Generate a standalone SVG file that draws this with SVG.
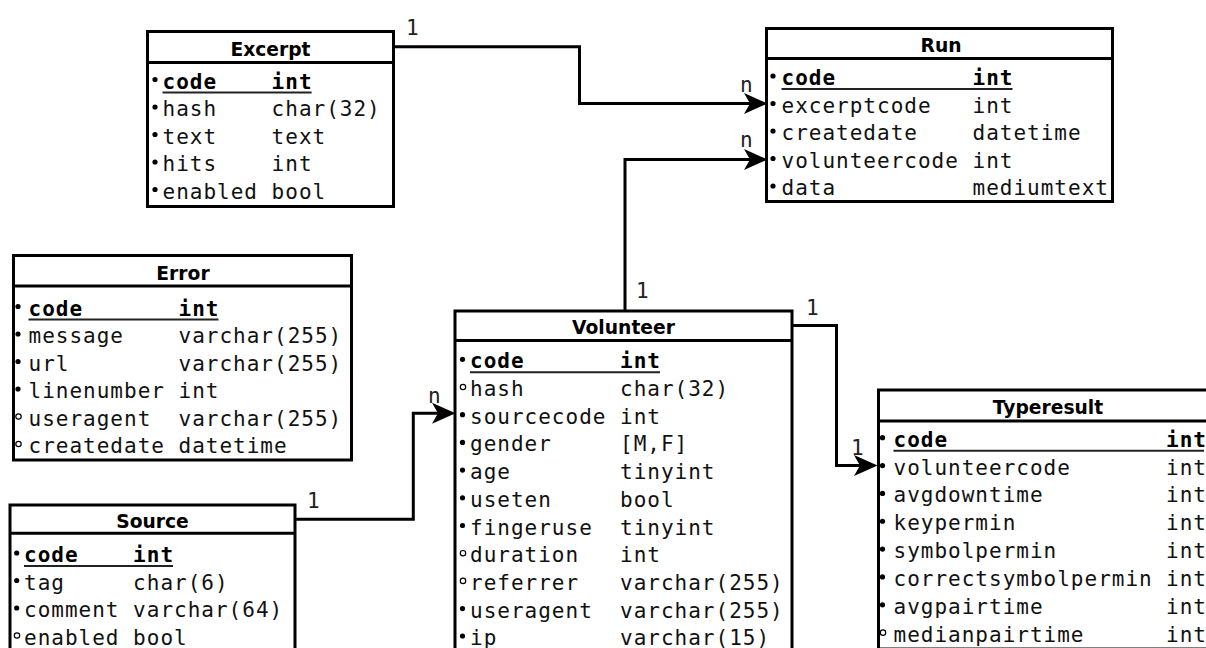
<svg xmlns="http://www.w3.org/2000/svg" width="1206" height="648" viewBox="0 0 1206 648">
<style>
.box{fill:#fff;stroke:#000;stroke-width:3}
.sep{stroke:#000;stroke-width:3}
.hd{font-family:"DejaVu Sans","Liberation Sans",sans-serif;font-weight:bold;font-size:18.7px;fill:#000;text-anchor:middle}
.t{font-family:"DejaVu Sans Mono","Liberation Mono",monospace;font-size:21px;letter-spacing:1px;fill:#111}
.pk{font-weight:bold;fill:#000}
.ul{stroke:#222;stroke-width:2}
.b{fill:#000}
.o{fill:none;stroke:#000;stroke-width:1.2}
.c{fill:none;stroke:#000;stroke-width:3}
.lb{font-family:"DejaVu Sans Mono","Liberation Mono",monospace;font-size:21px;fill:#222}
</style>
<defs>
<marker id="arr" markerUnits="userSpaceOnUse" markerWidth="26" markerHeight="24" viewBox="-16 -12 26 24" refX="0" refY="0" orient="auto">
<path d="M8.5,0 L-15,-10.5 L-9,0 L-15,10.5 Z" fill="#000"/>
</marker>
</defs>

<g id="excerpt">
<rect class="box" x="147.5" y="31.5" width="246" height="175"/>
<line class="sep" x1="147.5" y1="62.5" x2="393.5" y2="62.5"/>
<text class="hd" x="270.5" y="55.5">Excerpt</text>
<circle class="b" cx="155" cy="79.5" r="2.6"/><text class="t pk" x="162.5" y="88.5">code</text><text class="t pk" x="271.6" y="88.5">int</text>
<line class="ul" x1="162.5" y1="92.5" x2="311.6" y2="92.5"/>
<circle class="b" cx="155" cy="107" r="2.6"/><text class="t" x="162.5" y="116">hash</text><text class="t" x="271.6" y="116">char(32)</text>
<circle class="b" cx="155" cy="134.5" r="2.6"/><text class="t" x="162.5" y="143.5">text</text><text class="t" x="271.6" y="143.5">text</text>
<circle class="b" cx="155" cy="162" r="2.6"/><text class="t" x="162.5" y="171">hits</text><text class="t" x="271.6" y="171">int</text>
<circle class="b" cx="155" cy="189.5" r="2.6"/><text class="t" x="162.5" y="198.5">enabled</text><text class="t" x="271.6" y="198.5">bool</text>
</g>

<g id="run">
<rect class="box" x="766.5" y="28.5" width="346" height="173"/>
<line class="sep" x1="766.5" y1="58.5" x2="1112.5" y2="58.5"/>
<text class="hd" x="941" y="51.5">Run</text>
<circle class="b" cx="773" cy="76" r="2.6"/><text class="t pk" x="781.5" y="85">code</text><text class="t pk" x="972.5" y="85">int</text>
<line class="ul" x1="781.5" y1="89" x2="1012.5" y2="89"/>
<circle class="b" cx="773" cy="103.5" r="2.6"/><text class="t" x="781.5" y="112.5">excerptcode</text><text class="t" x="972.5" y="112.5">int</text>
<circle class="b" cx="773" cy="131" r="2.6"/><text class="t" x="781.5" y="140">createdate</text><text class="t" x="972.5" y="140">datetime</text>
<circle class="b" cx="773" cy="158.5" r="2.6"/><text class="t" x="781.5" y="167.5">volunteercode</text><text class="t" x="972.5" y="167.5">int</text>
<circle class="b" cx="773" cy="186" r="2.6"/><text class="t" x="781.5" y="195">data</text><text class="t" x="972.5" y="195">mediumtext</text>
</g>

<g id="error">
<rect class="box" x="13.5" y="255.5" width="338" height="204.5"/>
<line class="sep" x1="13.5" y1="286" x2="351.5" y2="286"/>
<text class="hd" x="183" y="280">Error</text>
<circle class="b" cx="18" cy="306.5" r="2.6"/><text class="t pk" x="28.5" y="315.5">code</text><text class="t pk" x="178.5" y="315.5">int</text>
<line class="ul" x1="28.5" y1="319.5" x2="218.5" y2="319.5"/>
<circle class="b" cx="18" cy="334" r="2.6"/><text class="t" x="28.5" y="343">message</text><text class="t" x="178.5" y="343">varchar(255)</text>
<circle class="b" cx="18" cy="361.5" r="2.6"/><text class="t" x="28.5" y="370.5">url</text><text class="t" x="178.5" y="370.5">varchar(255)</text>
<circle class="b" cx="18" cy="389" r="2.6"/><text class="t" x="28.5" y="398">linenumber</text><text class="t" x="178.5" y="398">int</text>
<circle class="o" cx="18.5" cy="416.5" r="2.7"/><text class="t" x="28.5" y="425.5">useragent</text><text class="t" x="178.5" y="425.5">varchar(255)</text>
<circle class="o" cx="18.5" cy="444" r="2.7"/><text class="t" x="28.5" y="453">createdate</text><text class="t" x="178.5" y="453">datetime</text>
</g>

<g id="volunteer">
<rect class="box" x="455" y="311" width="337" height="360"/>
<line class="sep" x1="455" y1="340.5" x2="792" y2="340.5"/>
<text class="hd" x="623.5" y="334">Volunteer</text>
<circle class="b" cx="462.5" cy="359.3" r="2.6"/><text class="t pk" x="470" y="368.3">code</text><text class="t pk" x="620" y="368.3">int</text>
<line class="ul" x1="470" y1="372.3" x2="660" y2="372.3"/>
<circle class="o" cx="463" cy="387" r="2.7"/><text class="t" x="470" y="396">hash</text><text class="t" x="620" y="396">char(32)</text>
<circle class="b" cx="462.5" cy="414.7" r="2.6"/><text class="t" x="470" y="423.7">sourcecode</text><text class="t" x="620" y="423.7">int</text>
<circle class="b" cx="462.5" cy="442.4" r="2.6"/><text class="t" x="470" y="451.4">gender</text><text class="t" x="620" y="451.4">[M,F]</text>
<circle class="b" cx="462.5" cy="470.1" r="2.6"/><text class="t" x="470" y="479.1">age</text><text class="t" x="620" y="479.1">tinyint</text>
<circle class="b" cx="462.5" cy="497.8" r="2.6"/><text class="t" x="470" y="506.8">useten</text><text class="t" x="620" y="506.8">bool</text>
<circle class="b" cx="462.5" cy="525.5" r="2.6"/><text class="t" x="470" y="534.5">fingeruse</text><text class="t" x="620" y="534.5">tinyint</text>
<circle class="o" cx="463" cy="553.2" r="2.7"/><text class="t" x="470" y="562.2">duration</text><text class="t" x="620" y="562.2">int</text>
<circle class="o" cx="463" cy="580.9" r="2.7"/><text class="t" x="470" y="589.9">referrer</text><text class="t" x="620" y="589.9">varchar(255)</text>
<circle class="b" cx="462.5" cy="608.6" r="2.6"/><text class="t" x="470" y="617.6">useragent</text><text class="t" x="620" y="617.6">varchar(255)</text>
<circle class="b" cx="462.5" cy="636" r="2.6"/><text class="t" x="470" y="645">ip</text><text class="t" x="620" y="645">varchar(15)</text>
</g>

<g id="typeresult">
<rect class="box" x="878.5" y="390" width="340" height="259"/>
<line class="sep" x1="878.5" y1="421" x2="1218.5" y2="421"/>
<text class="hd" x="1048" y="414">Typeresult</text>
<circle class="b" cx="882.5" cy="437.7" r="2.6"/><text class="t pk" x="893.5" y="446.7">code</text><text class="t pk" x="1166" y="446.7">int</text>
<line class="ul" x1="893.5" y1="450.7" x2="1204" y2="450.7"/>
<circle class="b" cx="882.5" cy="465.55" r="2.6"/><text class="t" x="893.5" y="474.55">volunteercode</text><text class="t" x="1166" y="474.55">int</text>
<circle class="b" cx="882.5" cy="493.4" r="2.6"/><text class="t" x="893.5" y="502.4">avgdowntime</text><text class="t" x="1166" y="502.4">int</text>
<circle class="b" cx="882.5" cy="521.25" r="2.6"/><text class="t" x="893.5" y="530.25">keypermin</text><text class="t" x="1166" y="530.25">int</text>
<circle class="b" cx="882.5" cy="549.1" r="2.6"/><text class="t" x="893.5" y="558.1">symbolpermin</text><text class="t" x="1166" y="558.1">int</text>
<circle class="b" cx="882.5" cy="576.95" r="2.6"/><text class="t" x="893.5" y="585.95">correctsymbolpermin</text><text class="t" x="1166" y="585.95">int</text>
<circle class="b" cx="882.5" cy="604.8" r="2.6"/><text class="t" x="893.5" y="613.8">avgpairtime</text><text class="t" x="1166" y="613.8">int</text>
<circle class="o" cx="883" cy="632.65" r="2.7"/><text class="t" x="893.5" y="641.65">medianpairtime</text><text class="t" x="1166" y="641.65">int</text>
</g>

<g id="source">
<rect class="box" x="10" y="505" width="285" height="170"/>
<line class="sep" x1="10" y1="533.3" x2="295" y2="533.3"/>
<text class="hd" x="152.5" y="528.3">Source</text>
<circle class="b" cx="16.7" cy="553" r="2.6"/><text class="t pk" x="24" y="562">code</text><text class="t pk" x="133.1" y="562">int</text>
<line class="ul" x1="24" y1="566" x2="173" y2="566"/>
<circle class="b" cx="16.7" cy="580.5" r="2.6"/><text class="t" x="24" y="589.5">tag</text><text class="t" x="133.1" y="589.5">char(6)</text>
<circle class="b" cx="16.7" cy="608" r="2.6"/><text class="t" x="24" y="617">comment</text><text class="t" x="133.1" y="617">varchar(64)</text>
<circle class="o" cx="17" cy="635.5" r="2.7"/><text class="t" x="24" y="644.5">enabled</text><text class="t" x="133.1" y="644.5">bool</text>
</g>

<g id="connectors">
<path class="c" d="M393.5,46.7 H579.5 V103.5 H759" marker-end="url(#arr)"/>
<path class="c" d="M625,311 V159.5 H759" marker-end="url(#arr)"/>
<path class="c" d="M792,325.5 H836.5 V465.5 H869" marker-end="url(#arr)"/>
<path class="c" d="M295,519.3 H413.3 V413.3 H447" marker-end="url(#arr)"/>
<text class="lb" x="406" y="35">1</text>
<text class="lb" x="740" y="92">n</text>
<text class="lb" x="636" y="298">1</text>
<text class="lb" x="740" y="147">n</text>
<text class="lb" x="806" y="315">1</text>
<text class="lb" x="851" y="455">1</text>
<text class="lb" x="307" y="508">1</text>
<text class="lb" x="428" y="403">n</text>
</g>
</svg>
